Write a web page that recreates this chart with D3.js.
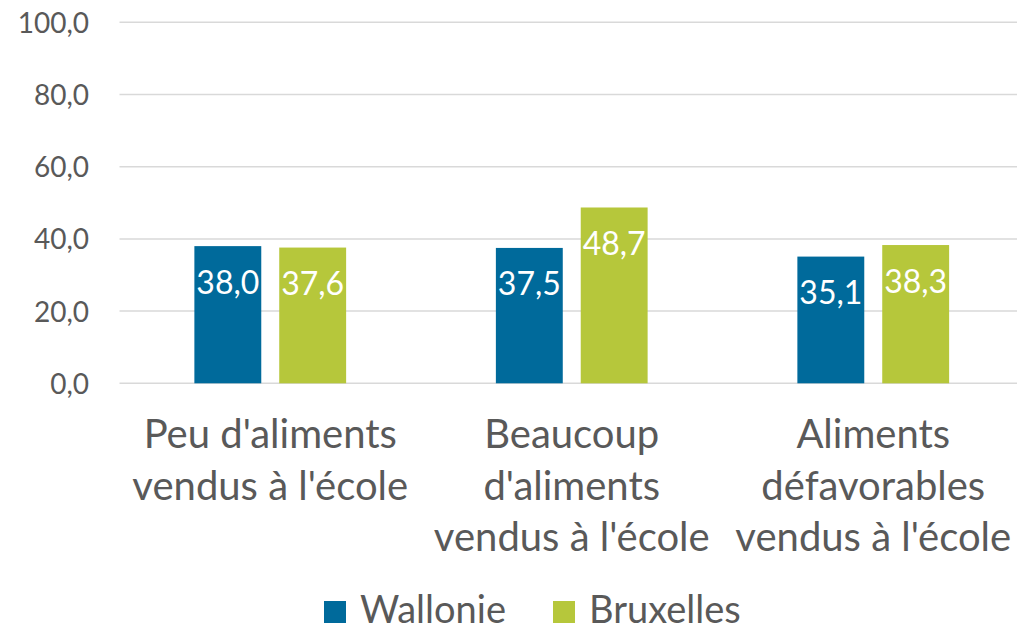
<!DOCTYPE html>
<head>
<meta charset="utf-8">
<style>
body { margin: 0; background: #fff; }
svg { display: block; font-family: Lato, "Open Sans", sans-serif; }
.tick text { fill: #595959; font-family: Lato, "Open Sans", sans-serif; }
.grid line { stroke: #d9d9d9; stroke-width: 1.5px; }
</style>
</head>
<body>
<svg width="1017" height="631"></svg>
<script src="https://cdnjs.cloudflare.com/ajax/libs/d3/7.8.5/d3.min.js"></script>
<script>
// data
var categories = [
  ["Peu d'aliments", "vendus à l'école"],
  ["Beaucoup", "d'aliments", "vendus à l'école"],
  ["Aliments", "défavorables", "vendus à l'école"]
];
var series = ["Wallonie", "Bruxelles"];
var wallonie = [38.0, 37.5, 35.1];
var bruxelles = [37.6, 48.7, 38.3];
var yTicks = [0, 20, 40, 60, 80, 100];
var colors = ["#006a9b", "#b6c73b"];

var svg = d3.select("svg"),
    plotL = 119.5, plotR = 1024, plotT = 22.3, plotB = 383.3;

var x = d3.scaleBand()
    .domain(d3.range(categories.length))
    .range([plotL, plotR]);
// inside a group: 75 | bar 67 | 18 | bar 67 | 75
var x1 = d3.scaleBand()
    .domain(series)
    .range([0, x.bandwidth()])
    .paddingInner(18 / 85)
    .paddingOuter(75 / 85);
var y = d3.scaleLinear().domain([0, 100]).range([plotB, plotT]);

var fmt = function(d) { return d3.format(".1f")(d).replace(".", ","); };

// gridlines
svg.append("g").attr("class", "grid")
  .selectAll("line").data(yTicks).enter().append("line")
    .attr("x1", plotL).attr("x2", 1017)
    .attr("y1", function(d) { return y(d); })
    .attr("y2", function(d) { return y(d); });

// y axis labels
var yAxis = d3.axisLeft(y).tickValues(yTicks).tickSize(0).tickPadding(0).tickFormat(fmt);
var ya = svg.append("g").attr("transform", "translate(89,0)").call(yAxis)
    .attr("font-family", null);
ya.select(".domain").remove();
ya.selectAll("text").style("font-size", "28px").attr("dy", "0.36em");

var rows = categories.map(function(c, i) {
  return [{s: series[0], v: wallonie[i]}, {s: series[1], v: bruxelles[i]}];
});

var grp = svg.selectAll(".grp").data(rows).enter().append("g")
    .attr("class", "grp")
    .attr("transform", function(d, i) { return "translate(" + x(i) + ",0)"; });

grp.selectAll("rect").data(function(d) { return d; }).enter().append("rect")
    .attr("x", function(d) { return x1(d.s); })
    .attr("width", x1.bandwidth())
    .attr("y", function(d) { return y(d.v); })
    .attr("height", function(d) { return y(0) - y(d.v); })
    .attr("fill", function(d, j) { return colors[j]; });

grp.selectAll("text.val").data(function(d) { return d; }).enter().append("text")
    .attr("class", "val")
    .attr("x", function(d) { return x1(d.s) + x1.bandwidth() / 2; })
    .attr("y", function(d) { return y(d.v) + 47.5; })
    .attr("text-anchor", "middle")
    .attr("fill", "#fff")
    .style("font-size", "32px")
    .text(function(d) { return fmt(d.v); });

// category labels
svg.selectAll(".cat").data(categories).enter().append("text")
    .attr("class", "cat")
    .attr("text-anchor", "middle")
    .attr("fill", "#595959")
    .style("font-size", "40px")
    .attr("transform", function(d, i) { return "translate(" + (x(i) + x.bandwidth() / 2) + ",0)"; })
  .selectAll("tspan").data(function(d) { return d; }).enter().append("tspan")
    .attr("x", 0)
    .attr("y", function(d, k) { return 448 + k * 51.5; })
    .text(function(d) { return d; });

// legend
var legX = [324, 553];
var leg = svg.selectAll(".leg").data(series).enter().append("g")
    .attr("class", "leg")
    .attr("transform", function(d, i) { return "translate(" + legX[i] + ",0)"; });
leg.append("rect").attr("y", 601).attr("width", 22).attr("height", 22)
    .attr("fill", function(d, i) { return colors[i]; });
leg.append("text").attr("x", 36).attr("y", 623)
    .attr("fill", "#595959").style("font-size", "38px")
    .text(function(d) { return d; });
</script>
</body>
